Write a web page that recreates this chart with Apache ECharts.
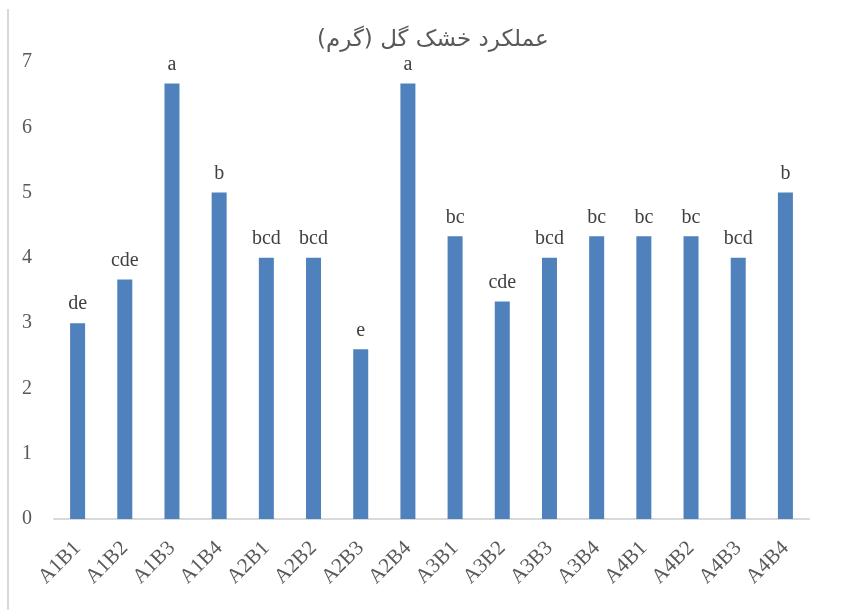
<!DOCTYPE html>
<html><head><meta charset="utf-8">
<script src="https://cdn.jsdelivr.net/npm/echarts@6/dist/echarts.min.js"></script>
<style>html,body{margin:0;padding:0;background:#fff}#c{width:845px;height:610px}</style>
</head><body><div id="c"></div>
<script>
var categories = ["A1B1","A1B2","A1B3","A1B4","A2B1","A2B2","A2B3","A2B4","A3B1","A3B2","A3B3","A3B4","A4B1","A4B2","A4B3","A4B4"];
var values = [3.0, 3.67, 6.67, 5.0, 4.0, 4.0, 2.6, 6.67, 4.33, 3.33, 4.0, 4.33, 4.33, 4.33, 4.0, 5.0];
var letters = ["de","cde","a","b","bcd","bcd","e","a","bc","cde","bcd","bc","bc","bc","bcd","b"];
var yTicks = [0,1,2,3,4,5,6,7];

var chart = echarts.init(document.getElementById('c'));
chart.setOption({
  backgroundColor: '#fff',
  animation: false,
  title: {
    text: 'عملکرد خشک گل (گرم)',
    left: 312, top: 24,
    textStyle: {fontFamily: 'DejaVu Sans', fontSize: 23, fontWeight: 'normal', color: '#595959'}
  },
  graphic: [{type: 'line', shape: {x1: 8, y1: 9, x2: 8, y2: 610}, style: {stroke: '#d9d9d9', lineWidth: 2}}],
  grid: {left: 54, right: 36, top: 62, bottom: 91, containLabel: false},
  xAxis: {
    type: 'category', data: categories,
    axisLine: {lineStyle: {color: '#d9d9d9', width: 2}},
    axisTick: {show: false},
    axisLabel: {rotate: 45, margin: 26, fontFamily: 'Liberation Serif', fontSize: 21, color: '#595959', interval: 0}
  },
  yAxis: {
    type: 'value', min: 0, max: 7, interval: 1,
    splitLine: {show: false},
    axisLine: {show: false}, axisTick: {show: false},
    axisLabel: {margin: 22, fontFamily: 'Liberation Serif', fontSize: 20, color: '#595959',
      formatter: function(v){ return yTicks.indexOf(v) >= 0 ? String(v) : ''; }}
  },
  series: [{
    type: 'bar', data: values, barWidth: 15,
    itemStyle: {color: '#4f81bd'},
    label: {show: true, position: 'top', distance: 9, fontFamily: 'Liberation Serif', fontSize: 20, color: '#404040',
      formatter: function(p){ return letters[p.dataIndex]; }}
  }]
});
</script></body></html>
